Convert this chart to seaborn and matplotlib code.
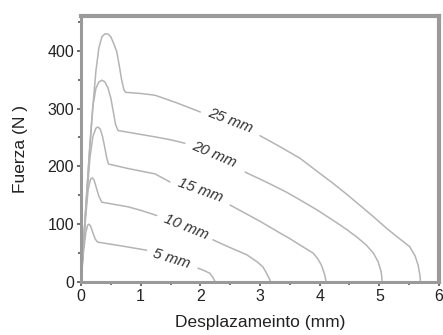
import matplotlib
matplotlib.use("Agg")
import matplotlib.pyplot as plt
import seaborn as sns
import pandas as pd
from matplotlib.ticker import MultipleLocator

# ---- data ----
labels = ["25 mm", "20 mm", "15 mm", "10 mm", "5 mm"]

x25a = [0, 0.05, 0.10, 0.15, 0.20, 0.25, 0.30, 0.35, 0.40, 0.45, 0.50, 0.55, 0.60,
        0.64, 0.68, 0.72, 0.75, 1.0, 1.24, 1.6, 2.0]
y25a = [0, 80, 160, 235, 305, 365, 405, 424, 429, 429, 424, 412, 398,
        375, 350, 332, 328, 326, 323, 310, 294]
x25b = [3.0, 3.3, 3.67, 4.0, 4.22, 4.45, 4.67, 4.9, 5.12, 5.3, 5.51, 5.6, 5.65, 5.68, 5.69]
y25b = [253, 236, 214, 188, 171, 152, 133, 113, 93, 78, 61, 45, 29, 12, 0]

x20a = [0, 0.05, 0.10, 0.15, 0.20, 0.25, 0.30, 0.35, 0.40, 0.45, 0.50, 0.54, 0.58,
        0.62, 0.9, 1.24, 1.5, 1.74]
y20a = [0, 80, 160, 240, 305, 335, 346, 349, 346, 336, 318, 295, 272,
        262, 257, 251, 246, 240]
x20b = [2.75, 3.0, 3.2, 3.45, 3.67, 3.95, 4.22, 4.45, 4.62, 4.78, 4.9, 4.98, 5.03, 5.05]
y20b = [190, 178, 168, 155, 142, 125, 107, 91, 78, 64, 50, 35, 18, 0]

x15a = [0, 0.05, 0.10, 0.15, 0.20, 0.25, 0.28, 0.32, 0.36, 0.40, 0.43, 0.46, 0.8, 1.24, 1.49]
y15a = [0, 80, 150, 215, 252, 266, 268, 265, 252, 232, 215, 204, 196, 187, 173]
x15b = [2.5, 2.75, 3.0, 3.33, 3.5, 3.67, 3.89, 3.97, 4.03, 4.08, 4.11]
y15b = [133, 119, 105, 85, 75, 64, 50, 40, 29, 14, 0]

x10a = [0, 0.04, 0.08, 0.12, 0.16, 0.19, 0.22, 0.26, 0.30, 0.35, 0.79, 1.0, 1.27]
y10a = [0, 60, 115, 160, 178, 180, 176, 162, 148, 138, 130, 124, 115]
x10b = [2.21, 2.4, 2.6, 2.78, 2.95, 3.05, 3.10, 3.15, 3.18]
y10b = [73, 64, 55, 47, 35, 26, 17, 7, 0]

x5a = [0, 0.04, 0.08, 0.11, 0.13, 0.16, 0.20, 0.24, 0.28, 0.7, 1.1]
y5a = [0, 50, 85, 98, 100, 97, 85, 74, 69, 62, 55]
x5b = [1.96, 2.08, 2.16, 2.21, 2.25]
y5b = [24, 19, 15, 8, 0]

label_x = [2.5, 2.24, 2.0, 1.76, 1.52]
label_y = [279, 220, 159, 95, 41]
label_rot = [-21, -23, -20, -22, -17]

xticks = [0, 1, 2, 3, 4, 5, 6]
yticks = [0, 100, 200, 300, 400]

segments = [
    ("25 mm", "a", x25a, y25a), ("25 mm", "b", x25b, y25b),
    ("20 mm", "a", x20a, y20a), ("20 mm", "b", x20b, y20b),
    ("15 mm", "a", x15a, y15a), ("15 mm", "b", x15b, y15b),
    ("10 mm", "a", x10a, y10a), ("10 mm", "b", x10b, y10b),
    ("5 mm", "a", x5a, y5a), ("5 mm", "b", x5b, y5b),
]
rows = []
for name, seg, xs, ys in segments:
    for xv, yv in zip(xs, ys):
        rows.append({"curve": name, "seg": name + seg, "x": xv, "y": yv})
df = pd.DataFrame(rows)

sns.set_style("white")
plt.rcParams["font.family"] = ["Liberation Sans", "DejaVu Sans"]

fig = plt.figure(figsize=(4.43, 3.35), dpi=100)
ax = fig.add_axes([81 / 443, 1 - 282 / 335, (439 - 81) / 443, (282 - 16) / 335])

sns.lineplot(data=df, x="x", y="y", units="seg", estimator=None, sort=False,
             color="#b4b4b4", linewidth=1.1, ax=ax, legend=False)

for t, lx, ly, r in zip(labels, label_x, label_y, label_rot):
    ax.text(lx, ly, t, rotation=r, ha="center", va="center", fontsize=11,
            style="italic", color="#333333", rotation_mode="anchor")

ax.set_xlim(0, 6)
ax.set_ylim(0, 460)
ax.set_xticks(xticks)
ax.set_yticks(yticks)
ax.xaxis.set_minor_locator(MultipleLocator(0.5))
ax.yaxis.set_minor_locator(MultipleLocator(50))
ax.tick_params(axis="both", which="major", direction="out", length=3, width=1.2,
               color="#555555", labelsize=11.5, labelcolor="#222222", pad=2,
               bottom=True, left=True)
ax.tick_params(axis="both", which="minor", direction="out", length=2, width=1.2,
               color="#555555", bottom=True, left=True)

for side in ["left", "bottom"]:
    ax.spines[side].set_color("#9a9a9a")
    ax.spines[side].set_linewidth(2.2)
for side in ["top", "right"]:
    ax.spines[side].set_color("#9a9a9a")
    ax.spines[side].set_linewidth(3.0)

ax.set_xlabel("Desplazameinto (mm)", fontsize=12.5, color="#222222", labelpad=8)
ax.set_ylabel("Fuerza (N )", fontsize=12.5, color="#222222", labelpad=14)

fig.savefig("out.png", dpi=100)
